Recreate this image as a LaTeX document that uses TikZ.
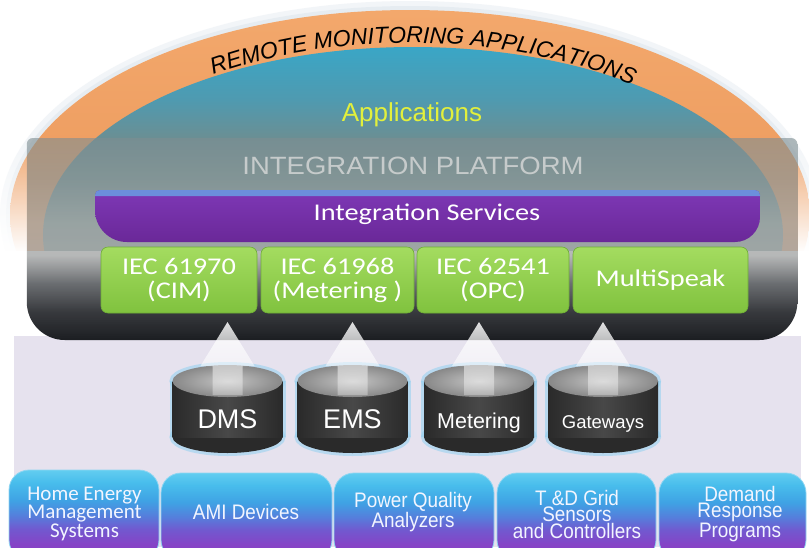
\documentclass[tikz,border=0pt]{standalone}
\usepackage{fontspec}
\setmainfont{Liberation Sans}
\newfontfamily\arial{Liberation Sans}
\newfontfamily\arialw{Liberation Sans}[FakeStretch=1.1]
\newfontfamily\arialn{Liberation Sans}[FakeStretch=0.9]
\newfontfamily\calib{Carlito}
\newfontfamily\calibw{Carlito}[FakeStretch=1.18]
\usetikzlibrary{fadings,decorations.text}

\definecolor{orA}{HTML}{F3A86C}
\definecolor{orB}{HTML}{E58C4E}
\definecolor{halo}{HTML}{DCE4EC}
\definecolor{tlA}{HTML}{3AA6C6}
\definecolor{tlB}{HTML}{4F9AB0}
\definecolor{tlC}{HTML}{6A8F94}
\definecolor{tlD}{HTML}{73908E}
\definecolor{appyel}{HTML}{E2F03C}
\definecolor{pA}{HTML}{1C1E22}
\definecolor{pB}{HTML}{2C2E32}
\definecolor{pC}{HTML}{585B5F}
\definecolor{pD}{HTML}{A8AAAA}
\definecolor{pE}{HTML}{A4A9A9}
\definecolor{pF}{HTML}{8A979A}
\definecolor{pG}{HTML}{7E8E92}
\definecolor{platxt}{HTML}{C6CBCB}
\definecolor{lav}{HTML}{E6E2EE}
\definecolor{purA}{HTML}{7E38B6}
\definecolor{purB}{HTML}{6A2898}
\definecolor{blueedge}{HTML}{6C8FDC}
\definecolor{grA}{HTML}{A4DC60}
\definecolor{grB}{HTML}{80C23E}
\definecolor{grC}{HTML}{6FAE36}
\definecolor{glowc}{HTML}{92D0F0}
\definecolor{cylA}{HTML}{2A2A2A}
\definecolor{cylB}{HTML}{484848}
\definecolor{ctopA}{HTML}{C4C4C4}
\definecolor{ctopB}{HTML}{888888}
\definecolor{tA}{HTML}{62CDF0}
\definecolor{tB}{HTML}{48BDEC}
\definecolor{tC}{HTML}{3FA2E4}
\definecolor{tD}{HTML}{5480DC}
\definecolor{tE}{HTML}{7258CF}
\definecolor{tF}{HTML}{8544C6}
\definecolor{tG}{HTML}{8A3CC4}
\definecolor{tabedge}{HTML}{8FD6F2}
\definecolor{tabtxt}{HTML}{F2F5FF}

\pgfdeclareverticalshading{tealshade}{100bp}{color(0bp)=(tlD); color(58bp)=(tlD); color(63bp)=(tlC); color(68bp)=(tlB); color(75bp)=(tlA); color(100bp)=(tlA)}
\pgfdeclareverticalshading{platshade}{100bp}{color(0bp)=(pA); color(25bp)=(pA); color(32bp)=(pB); color(39bp)=(pC); color(46bp)=(pD); color(54bp)=(pE); color(65bp)=(pF); color(75bp)=(pG); color(100bp)=(pG)}
\pgfdeclareverticalshading{tabshade}{100bp}{color(0bp)=(tG); color(25bp)=(tG); color(34bp)=(tF); color(42bp)=(tE); color(50bp)=(tD); color(58bp)=(tC); color(68bp)=(tB); color(75bp)=(tA); color(100bp)=(tA)}

\tikzfading[name=platfade, top color=transparent!40, middle color=transparent!0, bottom color=transparent!0]
\tikzfading[name=arrfade, top color=transparent!15, bottom color=transparent!70]
\tikzfading[name=sidefade, top color=transparent!100, bottom color=transparent!0]

\begin{document}
\begin{tikzpicture}[x=1pt,y=-1pt,
  gbox/.style={rounded corners=7pt, top color=grA, bottom color=grB, draw=grC, line width=.6pt,
    text=white, font=\calibw\fontsize{24}{24}\selectfont, align=center, inner sep=0pt, minimum height=66pt},
  glow/.style={draw=glowc, line width=6pt, opacity=.55},
  tabshape/.style={shading=tabshade, draw=tabedge, line width=.8pt, rounded corners=20pt},
  tabtext/.style={text=tabtxt, align=center, inner sep=0pt, font=\arialn\fontsize{21}{16.5}\selectfont},
  cyltext/.style={text=white, inner sep=0pt, anchor=base}]
\useasboundingbox (0,0) rectangle (809,547);
\fill[white] (0,0) rectangle (809,547);

% dome
\begin{scope}
  \clip (0,0) rectangle (809,250);
  \fill[halo, opacity=.35] (410,215) ellipse [x radius=410, y radius=214];
  \fill[halo, opacity=.5] (410,215) ellipse [x radius=404, y radius=209];
  \shade[top color=orA, bottom color=orB] (410,215) ellipse [x radius=400, y radius=205];
  \shade[shading=tealshade] (413,235) ellipse [x radius=370, y radius=188];
\end{scope}
% soften the dome's foot outside the platform
\fill[white, path fading=sidefade] (0,130) rectangle (27,252);
\fill[white, path fading=sidefade] (798,130) rectangle (809,252);
\path[decorate, decoration={text along path, text align=center,
   text={|\arial\itshape\fontsize{23}{23}\selectfont|REMOTE MONITORING APPLICATIONS}}]
   plot[smooth, domain=158:14, samples=80] ({410+339*cos(\x)}, {215-172*sin(\x)});
\node[font=\arial\fontsize{26}{26}\selectfont, text=appyel] (apps) at (412,115) {Applications};

% lavender field
\fill[lav] (14,336) rectangle (801,547);

% platform
\shade[shading=platshade, path fading=platfade]
  (27,144) .. controls (27,140.7) and (29.7,138) .. (33,138) -- (792,138)
  .. controls (795.3,138) and (798,140.7) .. (798,144) -- (798,302)
  .. controls (798,323) and (781,340) .. (760,340) -- (65,340)
  .. controls (44,340) and (27,323) .. (27,302) -- cycle;
\node[font=\arialw\fontsize{25}{25}\selectfont, text=platxt] (plat) at (413,166) {INTEGRATION PLATFORM};

% integration services bar
\shade[top color=purA, bottom color=purB]
  (95,195) .. controls (95,192.2) and (97.2,190) .. (100,190) -- (755,190)
  .. controls (757.8,190) and (760,192.2) .. (760,195) -- (760,217)
  .. controls (760,230.8) and (748.8,242) .. (735,242) -- (127,242)
  .. controls (109.3,242) and (95,227.7) .. (95,210) -- cycle;
\fill[blueedge]
  (95,195) .. controls (95,192.2) and (97.2,190) .. (100,190) -- (755,190)
  .. controls (757.8,190) and (760,192.2) .. (760,195) -- (760,196) -- (95,196) -- cycle;
\node[font=\calibw\fontsize{24}{24}\selectfont, text=white] (svc) at (427,214) {Integration Services};

% cylinders
\foreach \cx/\nm/\lab/\fs in {227.5/dms/DMS/27, 352.5/ems/EMS/27, 479/met/Metering/21.5, 603/gw/Gateways/18.5}{
  \draw[glow] (\cx,437) ellipse [x radius=55, y radius=16];
  \draw[glow] (\cx-55,381) -- (\cx-55,437);
  \draw[glow] (\cx+55,381) -- (\cx+55,437);
  \draw[glow] (\cx,381) ellipse [x radius=55, y radius=16];
  \fill[cylA] (\cx,437) ellipse [x radius=55, y radius=16];
  \shade[left color=cylA, right color=cylA, middle color=cylB] (\cx-55,381) rectangle (\cx+55,437);
  \shade[inner color=ctopA, outer color=ctopB] (\cx,381) ellipse [x radius=55, y radius=16];
  \node[cyltext, font=\arial\fontsize{\fs}{\fs}\selectfont] (\nm) at (\cx,428) {\lab};
  % arrow
  \fill[white, path fading=arrfade] (\cx,322) -- (\cx+27,366) -- (\cx+15,366) -- (\cx+15,395)
     -- (\cx-15,395) -- (\cx-15,366) -- (\cx-27,366) -- cycle;
}

% standards boxes
\node[gbox, minimum width=156pt] (cim) at (179,280) {IEC 61970\\(CIM)};
\node[gbox, minimum width=153pt] (meter) at (337.5,280) {IEC 61968\\(Metering )};
\node[gbox, minimum width=152pt] (opc) at (493,280) {IEC 62541\\(OPC)};
\node[gbox, minimum width=175pt] (ms) at (660.5,280) {MultiSpeak};

% bottom tabs
\begin{scope}
  \clip (0,0) rectangle (809,547);
  \shade[tabshape] (9,470) rectangle (159,560);
  \shade[tabshape] (161,473) rectangle (332,560);
  \shade[tabshape] (334,473) rectangle (494,560);
  \shade[tabshape] (497,473) rectangle (656,560);
  \shade[tabshape] (659,473) rectangle (806,560);
\end{scope}
\node[tabtext, font=\calib\fontsize{21}{16}\selectfont] (hems) at (84.5,514) {Home Energy\\Management\\Systems};
\node[tabtext, anchor=base] (ami) at (246,519) {AMI Devices};
\node[tabtext] (pq) at (413,512) {Power Quality\\Analyzers};
\node[tabtext] (td) at (577,514) {T \&D Grid\\Sensors\\and Controllers};
\node[tabtext] (dr) at (740,514) {Demand\\Response\\Programs};
\end{tikzpicture}
\end{document}
